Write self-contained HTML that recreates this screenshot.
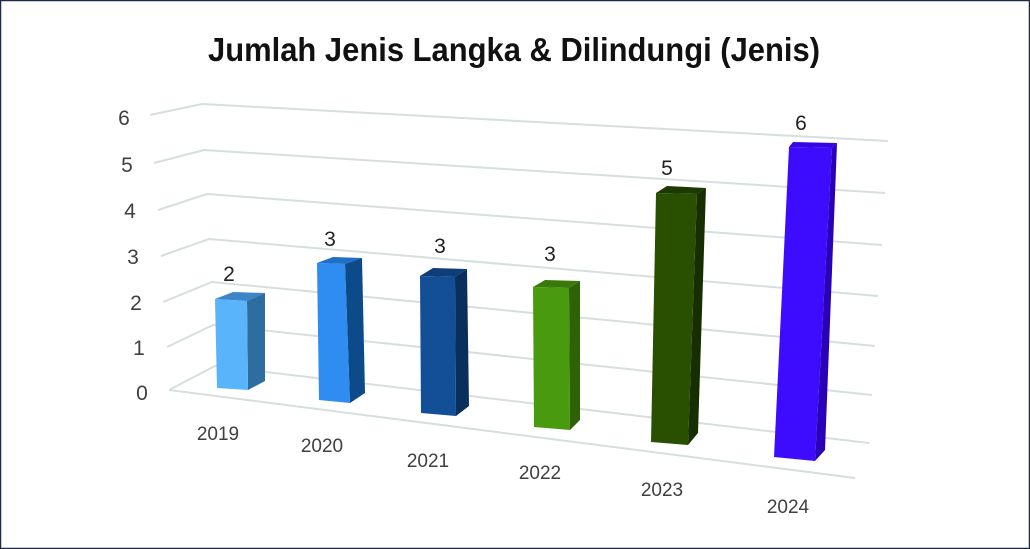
<!DOCTYPE html>
<html><head><meta charset="utf-8"><style>
html,body{margin:0;padding:0;background:#fff}
svg{display:block}
</style></head><body>
<svg width="1030" height="549" viewBox="0 0 1030 549" xmlns="http://www.w3.org/2000/svg" font-family="Liberation Sans, sans-serif">
<rect x="0.5" y="0.5" width="1029" height="548" fill="#fff" stroke="#1f2a44" stroke-width="1.5"/>
<text x="514" y="61" text-anchor="middle" font-size="33" font-weight="bold" fill="#111" textLength="612" lengthAdjust="spacingAndGlyphs">Jumlah Jenis Langka &amp; Dilindungi (Jenis)</text>
<g stroke="#d6dede" stroke-width="2" fill="none">
<polyline points="150,115 202,104 888,141"/>
<polyline points="154,163 204,150 885,193"/>
<polyline points="158,210 207,194 882,245"/>
<polyline points="161,256 209,239 878,296"/>
<polyline points="163,302 212,282 875,346"/>
<polyline points="167,347 213,325 872,395"/>
<polyline points="169,390 215,366 869,443"/>
<line x1="169" y1="390" x2="855" y2="478"/>
</g>
<g font-size="21" fill="#404040" text-anchor="middle">
<text x="124" y="125">6</text><text x="127" y="172">5</text><text x="130" y="218">4</text>
<text x="133" y="264">3</text><text x="136" y="310">2</text><text x="139" y="355">1</text><text x="142" y="400">0</text>
</g>
<!-- 2019 -->
<polygon points="215,299 247,301 265,293 233,292" fill="#3d85c6"/>
<polygon points="247,301 265,293 265,381 248,390" fill="#2e6da0"/>
<polygon points="215,299 247,301 248,390 217,388" fill="#5ab4fc"/>
<!-- 2020 -->
<polygon points="317,263 345,264 362,258 333,257" fill="#1f6fc8"/>
<polygon points="345,264 362,258 365,393 350,403" fill="#0d4a8a"/>
<polygon points="317,263 345,264 350,403 319,400" fill="#2f8cf0"/>
<!-- 2021 -->
<polygon points="420,276 455,277 467,269 433,268" fill="#0e3d78"/>
<polygon points="455,277 467,269 469,406 456,416" fill="#0a2f5c"/>
<polygon points="420,276 455,277 456,416 421,413" fill="#134f96"/>
<!-- 2022 -->
<polygon points="533,287 569,288 580,281 545,280" fill="#3a7a0a"/>
<polygon points="569,288 580,281 580,420 570,430" fill="#2d6208"/>
<polygon points="533,287 569,288 570,430 534,427" fill="#4a9a10"/>
<!-- 2023 -->
<polygon points="656,193 697,194 706,188 667,186" fill="#1c3a00"/>
<polygon points="697,194 706,188 698,433 688,445" fill="#162e00"/>
<polygon points="656,193 697,194 688,445 651,442" fill="#285000"/>
<!-- 2024 -->
<polygon points="789,147 832,148 837,143 793,142" fill="#3408e6"/>
<polygon points="832,148 837,143 825,450 815,461" fill="#2a00b8"/>
<polygon points="789,147 832,148 815,461 774,457" fill="#3d0cff"/>
<g font-size="21" fill="#222" text-anchor="middle">
<text x="229" y="281">2</text><text x="330" y="246">3</text><text x="440" y="253">3</text>
<text x="550" y="261">3</text><text x="667" y="175">5</text><text x="801" y="130">6</text>
</g>
<g font-size="19" fill="#404040" text-anchor="middle">
<text x="218" y="440">2019</text><text x="322" y="452">2020</text><text x="428" y="467">2021</text>
<text x="540" y="479">2022</text><text x="662" y="496">2023</text><text x="788" y="513">2024</text>
</g>
</svg>
</body></html>
